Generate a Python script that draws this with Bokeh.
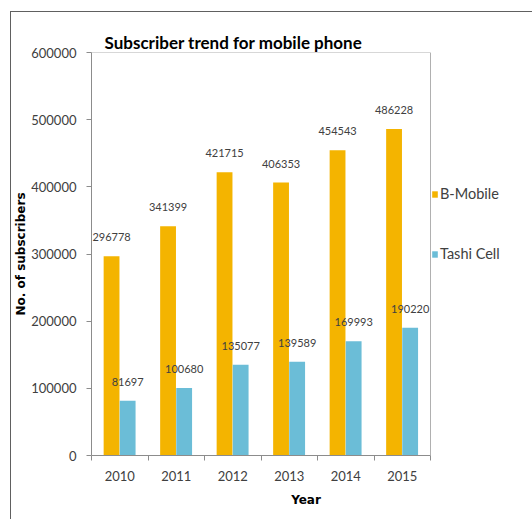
import numpy as np
from bokeh.plotting import figure
from bokeh.models import (ColumnDataSource, FixedTicker, LabelSet, Legend, LegendItem, Range1d)
from bokeh.core.properties import value
from bokeh.embed import file_html
from bokeh.resources import INLINE

years = ["2010", "2011", "2012", "2013", "2014", "2015"]
b_mobile = [296778, 341399, 421715, 406353, 454543, 486228]
tashi_cell = [81697, 100680, 135077, 139589, 169993, 190220]
series_names = ["B-Mobile", "Tashi Cell"]
y_ticks = [0, 100000, 200000, 300000, 400000, 500000, 600000]

ORANGE = "#F4B400"
BLUE = "#6BBDD7"
FONT = "Lato"
BOLD_FONT = "DejaVu Sans"
TXT = "#404040"
GRAY = "#8c8c8c"

n = len(years)
y_max = y_ticks[-1]
centers = np.arange(n) + 0.5
BW = 0.28
src_b = ColumnDataSource(dict(x=centers - 0.145, top=b_mobile, lab=[str(v) for v in b_mobile]))
src_t = ColumnDataSource(dict(x=centers + 0.14, top=tashi_cell, lab=[str(v) for v in tashi_cell]))

# frame extended to the right to host the legend (plot area = 339 px of 429 px)
x_end = n * 429 / 339

p = figure(width=521, height=507, output_backend="svg", toolbar_location=None,
           x_range=Range1d(0, x_end), y_range=Range1d(0, y_max),
           min_border_left=80, min_border_right=12, min_border_top=40, min_border_bottom=64)
p.margin = (12, 0, 0, 11)
p.styles = {"outline": "1px solid #606060"}
p.background_fill_color = "white"
p.border_fill_color = "white"
p.outline_line_color = None
p.xgrid.visible = False
p.ygrid.visible = False

# plot-area border (top and right)
p.line(x=[0, n, n], y=[y_max, y_max, 0], line_color="#b0b0b0", line_width=1)

rb = p.vbar(x="x", top="top", width=BW, source=src_b, color=ORANGE, line_color=None)
rt = p.vbar(x="x", top="top", width=BW, source=src_t, color=BLUE, line_color=None)

for s in (src_b, src_t):
    p.add_layout(LabelSet(x="x", y="top", text="lab", source=s, text_align="center",
                          text_baseline="middle", y_offset=19, text_font=value(FONT),
                          text_font_size="11px", text_color=TXT))

# axes
p.xaxis.bounds = (0, n)
p.xaxis.ticker = FixedTicker(ticks=list(centers), minor_ticks=list(range(n + 1)))
p.xaxis.major_label_overrides = {float(c): y for c, y in zip(centers, years)}
p.xaxis.major_tick_out = 0
p.xaxis.major_tick_in = 0
p.xaxis.minor_tick_out = 5
p.xaxis.minor_tick_in = 0
p.xaxis.major_label_standoff = 10
p.xaxis.axis_label = "Year"
p.xaxis.axis_label_standoff = 9

p.yaxis.ticker = FixedTicker(ticks=y_ticks)
p.yaxis.formatter.use_scientific = False
p.yaxis.major_tick_out = 5
p.yaxis.major_tick_in = 0
p.yaxis.minor_tick_out = 0
p.yaxis.minor_tick_in = 0
p.yaxis.major_label_standoff = 10
p.yaxis.axis_label = "No. of subscribers"
p.yaxis.axis_label_standoff = 0

for ax in (p.xaxis, p.yaxis):
    ax.axis_line_color = GRAY
    ax.major_tick_line_color = GRAY
    ax.minor_tick_line_color = GRAY
    ax.major_label_text_font = FONT
    ax.major_label_text_font_size = "13px"
    ax.major_label_text_color = TXT
    ax.axis_label_text_font = BOLD_FONT
    ax.axis_label_text_font_size = "12px"
    ax.axis_label_text_font_style = "bold"
    ax.axis_label_text_color = "#000000"

p.title.text = "Subscriber trend for mobile phone"
p.title.text_font = FONT
p.title.text_font_size = "17px"
p.title.text_font_style = "bold"
p.title.text_color = "#000000"
p.title.align = "left"
p.title.offset = 13
p.title.standoff = 0

legend = Legend(items=[LegendItem(label=series_names[0], renderers=[rb]),
                       LegendItem(label=series_names[1], renderers=[rt])],
                location=(340, 193), orientation="vertical", padding=0, margin=0,
                spacing=43, glyph_width=7, glyph_height=8, label_standoff=2,
                label_text_font=FONT, label_text_font_size="14.5px", label_text_color=TXT,
                border_line_color=None, background_fill_alpha=0)
p.add_layout(legend, "center")

open("out.html", "w").write(file_html(p, INLINE))
